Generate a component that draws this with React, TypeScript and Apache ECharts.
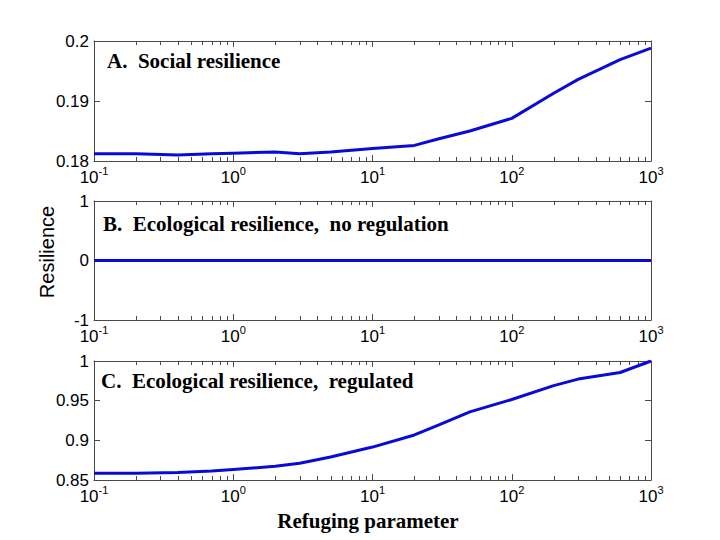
import React, { useEffect, useRef } from "react";
import * as echarts from "echarts";

const refuging = [0.1, 0.2, 0.4, 0.7, 1, 2, 3, 5, 10, 20, 30, 50, 100, 200, 300, 600, 1000];
const socialResilience = [0.1812, 0.1812, 0.1810, 0.1812, 0.1813, 0.1815, 0.1812, 0.1815, 0.1821, 0.1826, 0.1837, 0.1850, 0.1871, 0.1913, 0.1936, 0.1969, 0.1988];
const ecoNoRegulation = [0, 0, 0, 0, 0, 0, 0, 0, 0, 0, 0, 0, 0, 0, 0, 0, 0];
const ecoRegulated = [0.8584, 0.8586, 0.8595, 0.8612, 0.8632, 0.8672, 0.8712, 0.8790, 0.8915, 0.9068, 0.9195, 0.9358, 0.9515, 0.9690, 0.9772, 0.9855, 1.0];

const panelTitles = [
  "A.  Social resilience",
  "B.  Ecological resilience,  no regulation",
  "C.  Ecological resilience,  regulated",
];
const yRanges = [
  { min: 0.18, max: 0.2, interval: 0.01 },
  { min: -1, max: 1, interval: 1 },
  { min: 0.85, max: 1, interval: 0.05 },
];
const xMin = 0.1;
const xMax = 1000;

// minor tick positions of a log axis (2..9 in every decade)
const minorTicks: number[] = [];
for (let d = -1; d < 3; d++) {
  for (let m = 2; m <= 9; m++) minorTicks.push(m * Math.pow(10, d));
}

const LINE_COLOR = "#0a0ad8";
const AXIS_COLOR = "#4a4a4a";

export default function App() {
  const ref = useRef<HTMLDivElement>(null);
  useEffect(() => {
    if (!ref.current) return;
    const chart = echarts.init(ref.current, undefined, { renderer: "svg" });
    const grids = [
      { left: 94, top: 41, width: 557, height: 120 },
      { left: 94, top: 201, width: 557, height: 119 },
      { left: 94, top: 361, width: 557, height: 119 },
    ];
    const seriesData = [socialResilience, ecoNoRegulation, ecoRegulated];
    const xAxes: any[] = [];
    const yAxes: any[] = [];
    const series: any[] = [];
    grids.forEach((_, i) => {
      xAxes.push({
        gridIndex: i,
        type: "log",
        logBase: 10,
        min: xMin,
        max: xMax,
        position: "bottom",
        axisLine: { show: true, onZero: false, lineStyle: { color: AXIS_COLOR, width: 1 } },
        axisTick: { show: true, inside: true, length: 6, lineStyle: { color: AXIS_COLOR } },
        splitLine: { show: false },
        axisLabel: {
          margin: 8,
          color: "#000",
          formatter: (v: number) => `{b|10}{s|${Math.round(Math.log10(v))}}`,
          rich: {
            b: { fontSize: 17, fontFamily: "Liberation Sans", color: "#000", lineHeight: 17 },
            s: { fontSize: 11, fontFamily: "Liberation Sans", color: "#000", lineHeight: 11, padding: [0, 0, 13, 0] },
          },
        },
      });
      xAxes.push({
        gridIndex: i,
        type: "log",
        logBase: 10,
        min: xMin,
        max: xMax,
        position: "top",
        axisLine: { show: true, onZero: false, lineStyle: { color: AXIS_COLOR, width: 1 } },
        axisTick: { show: true, inside: true, length: 6, lineStyle: { color: AXIS_COLOR } },
        splitLine: { show: false },
        axisLabel: { show: false },
      });
      yAxes.push({
        gridIndex: i,
        type: "value",
        min: yRanges[i].min,
        max: yRanges[i].max,
        interval: yRanges[i].interval,
        position: "left",
        axisLine: { show: true, onZero: false, lineStyle: { color: AXIS_COLOR, width: 1 } },
        axisTick: { show: true, inside: true, length: 6, lineStyle: { color: AXIS_COLOR } },
        splitLine: { show: false },
        axisLabel: { margin: 5, color: "#000", fontSize: 17, fontFamily: "Liberation Sans" },
      });
      yAxes.push({
        gridIndex: i,
        type: "value",
        min: yRanges[i].min,
        max: yRanges[i].max,
        interval: yRanges[i].interval,
        position: "right",
        axisLine: { show: true, onZero: false, lineStyle: { color: AXIS_COLOR, width: 1 } },
        axisTick: { show: true, inside: true, length: 6, lineStyle: { color: AXIS_COLOR } },
        splitLine: { show: false },
        axisLabel: { show: false },
      });
      series.push({
        type: "line",
        xAxisIndex: i * 2,
        yAxisIndex: i * 2,
        data: refuging.map((x, k) => [x, seriesData[i][k]]),
        showSymbol: false,
        smooth: false,
        lineStyle: { color: LINE_COLOR, width: 3 },
        z: 5,
      });
      series.push({
        type: "custom",
        xAxisIndex: i * 2,
        yAxisIndex: i * 2,
        data: minorTicks.map((x) => [x, yRanges[i].min]),
        silent: true,
        renderItem: (params: any, api: any) => {
          const p = api.coord([api.value(0), api.value(1)]);
          const cs = params.coordSys;
          const x = Math.round(p[0]) + 0.5;
          const yb = cs.y + cs.height;
          const yt = cs.y;
          return {
            type: "group",
            children: [
              { type: "line", shape: { x1: x, y1: yb, x2: x, y2: yb - 4 }, style: { stroke: AXIS_COLOR, lineWidth: 1 } },
              { type: "line", shape: { x1: x, y1: yt, x2: x, y2: yt + 4 }, style: { stroke: AXIS_COLOR, lineWidth: 1 } },
            ],
          };
        },
      });
    });

    const titleY = [61, 224, 381];
    const titleX = [107, 103, 101];
    const graphics: any[] = panelTitles.map((t, i) => ({
      type: "text",
      x: titleX[i],
      y: titleY[i],
      z: 10,
      style: {
        text: t,
        font: 'bold 21px "Liberation Serif"',
        fill: "#000",
        verticalAlign: "middle",
        align: "left",
      },
    }));
    graphics.push({
      type: "text",
      x: 47,
      y: 252,
      rotation: Math.PI / 2,
      style: {
        text: "Resilience",
        font: '20px "Liberation Sans"',
        fill: "#000",
        align: "center",
        verticalAlign: "middle",
      },
    });
    graphics.push({
      type: "text",
      x: 368,
      y: 521,
      style: {
        text: "Refuging parameter",
        font: 'bold 21px "Liberation Serif"',
        fill: "#000",
        align: "center",
        verticalAlign: "middle",
      },
    });

    chart.setOption({
      animation: false,
      backgroundColor: "#fff",
      grid: grids,
      xAxis: xAxes,
      yAxis: yAxes,
      series,
      graphic: graphics,
    });
    return () => chart.dispose();
  }, []);
  return (
    <div
      ref={ref}
      style={{ position: "absolute", left: 0, top: 0, width: 720, height: 540 }}
    />
  );
}
